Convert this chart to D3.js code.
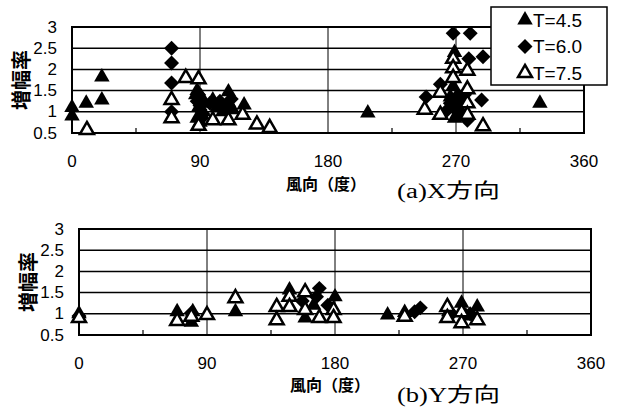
<!DOCTYPE html>
<html>
<head>
<meta charset="utf-8">
<script src="https://cdn.jsdelivr.net/npm/d3@7"></script>
<style>
  body { margin: 0; background: #fff; }
  svg { display: block; }
  text { fill: #000; }
  .tick-label { font-family: 'Liberation Sans', Arial, sans-serif; font-size: 17px; }
  .legend-label { font-family: 'Liberation Sans', Arial, sans-serif; font-size: 19px; }
  .y-title { font-family: 'Noto Sans CJK JP', sans-serif; font-size: 20px; font-weight: bold; }
  .x-title { font-family: 'Noto Sans CJK JP', sans-serif; font-size: 16px; font-weight: bold; }
  .sub-title { font-family: 'Liberation Serif', 'Noto Sans CJK JP', serif; font-size: 20px; }
</style>
</head>
<body>
<svg id="chart" width="619" height="412"></svg>
<script>
const seriesNames = ['T=4.5', 'T=6.0', 'T=7.5'];
const xTicks = [0, 90, 180, 270, 360];
const yTicks = [0.5, 1, 1.5, 2, 2.5, 3];
const minorTicks = [45, 135, 225, 315];

// (a) X direction: [wind direction (deg), amplification]
const xDirT45 = [
  [0, 1.1], [0, 0.9], [10, 1.2], [21, 1.28], [21, 1.82],
  [88, 1.5], [90, 1.3], [89, 1.1], [91, 0.95], [90, 0.75], [93, 1.2],
  [87, 1.4], [92, 1.0], [91, 1.35], [88, 0.85],
  [99, 1.28], [102, 1.1], [106, 1.0], [110, 1.47], [110, 1.22], [113, 1.05], [121, 1.16],
  [208, 0.97],
  [266, 1.35], [269, 2.4], [270, 1.1], [272, 0.9], [268, 1.6], [275, 1.2],
  [268, 1.25], [271, 1.4], [273, 1.05], [269, 0.85],
  [329, 1.2]
];
const xDirT60 = [
  [70, 2.5], [70, 2.15], [70, 1.68], [70, 1.0],
  [89, 1.4], [90, 1.15], [92, 0.95], [88, 1.25], [91, 0.85], [90, 1.05],
  [97, 1.2], [104, 1.25], [108, 1.05], [112, 1.3],
  [249, 1.35], [259, 1.65], [268, 2.85], [280, 2.85], [279, 2.25], [289, 2.3],
  [288, 1.28], [278, 0.8], [266, 1.2], [271, 1.0], [276, 1.4], [264, 1.05],
  [270, 1.3], [273, 1.2]
];
const xDirT75 = [
  [10.5, 0.57], [70, 1.28], [70, 0.85], [80, 1.8], [89, 1.77], [89, 0.67],
  [99, 0.8], [110, 0.8], [120, 0.93], [130, 0.7], [139, 0.62],
  [248, 1.05], [259, 1.45], [259, 0.93], [268, 2.25], [268, 2.03], [268, 1.8],
  [278, 1.97], [278, 1.53], [278, 1.2], [278, 0.93], [289, 0.66]
];

// (b) Y direction
const yDirT45 = [
  [0, 1.0], [69, 1.05], [79, 0.8], [80, 1.05], [110, 1.05],
  [148, 1.56], [159, 0.9], [165, 1.2], [180, 1.4],
  [217, 0.97], [229, 1.03], [269, 1.25], [280, 1.16], [260, 1.05], [272, 0.95]
];
const yDirT60 = [
  [0, 0.95], [79, 1.02], [169, 1.6], [167, 1.4], [175, 1.2], [157, 1.3],
  [240, 1.14], [236, 1.05], [262, 1.0], [275, 1.0]
];
const yDirT75 = [
  [0, 0.9], [69, 0.83], [79, 0.93], [90, 0.97], [110, 1.37],
  [139, 1.16], [139, 0.85], [148, 1.4], [148, 1.16], [159, 1.51], [159, 1.09],
  [169, 0.9], [179, 1.09], [179, 0.9],
  [229, 0.93], [259, 1.16], [259, 0.9], [269, 1.04], [269, 0.78], [280, 0.85]
];

const svg = d3.select('#chart');

const triangle = d3.symbol(d3.symbolTriangle, 104)();
const triangleOpen = d3.symbol(d3.symbolTriangle, 84)();
const diamond = d3.symbol(d3.symbolSquare, 112)();

// draw one marker of a given series at (0,0) inside sel
function marker(sel, i) {
  if (i === 0) {
    sel.append('path').attr('d', triangle).attr('fill', '#000');
  } else if (i === 1) {
    sel.append('path').attr('d', diamond).attr('transform', 'rotate(45)').attr('fill', '#000');
  } else {
    sel.append('path').attr('d', triangleOpen)
      .attr('fill', '#fff').attr('stroke', '#000').attr('stroke-width', 2.5);
  }
}

function drawPanel(opt) {
  const x = d3.scaleLinear().domain([0, 360]).range([opt.left, opt.right]);
  const y = d3.scaleLinear().domain([0.5, 3]).range([opt.bottom, opt.top]);
  const g = svg.append('g');

  // grid
  g.selectAll('.hgrid').data(yTicks).enter().append('line')
    .attr('x1', opt.left).attr('x2', opt.right)
    .attr('y1', d => y(d)).attr('y2', d => y(d))
    .attr('stroke', '#000').attr('stroke-width', 1.5);
  g.selectAll('.vgrid').data(xTicks.slice(1, -1)).enter().append('line')
    .attr('x1', d => x(d)).attr('x2', d => x(d))
    .attr('y1', opt.top).attr('y2', opt.bottom)
    .attr('stroke', '#000').attr('stroke-width', 1);
  g.selectAll('.minor').data(minorTicks).enter().append('line')
    .attr('x1', d => x(d)).attr('x2', d => x(d))
    .attr('y1', opt.bottom).attr('y2', opt.bottom - 5)
    .attr('stroke', '#000').attr('stroke-width', 1.2);
  g.append('rect')
    .attr('x', opt.left).attr('y', opt.top)
    .attr('width', opt.right - opt.left).attr('height', opt.bottom - opt.top)
    .attr('fill', 'none').attr('stroke', '#000').attr('stroke-width', 2);

  // tick labels
  g.selectAll('.xl').data(xTicks).enter().append('text')
    .attr('class', 'tick-label')
    .attr('x', d => x(d)).attr('y', opt.bottom + 28)
    .attr('text-anchor', 'middle').attr('dominant-baseline', 'central')
    .text(d => d);
  g.selectAll('.yl').data(yTicks).enter().append('text')
    .attr('class', 'tick-label')
    .attr('x', opt.left - 15).attr('y', d => y(d))
    .attr('text-anchor', 'end').attr('dominant-baseline', 'central')
    .text(d => d);

  // points, series in order so open triangles sit on top
  opt.series.forEach((data, i) => {
    g.append('g').selectAll('g').data(data).enter().append('g')
      .attr('transform', d => `translate(${x(d[0])},${y(d[1])})`)
      .each(function () { marker(d3.select(this), i); });
  });

  // titles
  g.append('text').attr('class', 'y-title')
    .attr('transform', `translate(${opt.left - 52},${(opt.top + opt.bottom) / 2}) rotate(-90)`)
    .attr('text-anchor', 'middle').attr('dominant-baseline', 'central')
    .text('増幅率');
  g.append('text').attr('class', 'x-title')
    .attr('x', opt.xTitleX).attr('y', opt.xTitleY)
    .attr('text-anchor', 'middle').attr('dominant-baseline', 'central')
    .text('風向（度）');
  g.append('text').attr('class', 'sub-title')
    .attr('x', 397).attr('y', opt.subY)
    .attr('dominant-baseline', 'central')
    .attr('textLength', 103).attr('lengthAdjust', 'spacingAndGlyphs')
    .text(opt.sub);
}

drawPanel({
  left: 72, right: 584, top: 27, bottom: 133,
  series: [xDirT45, xDirT60, xDirT75],
  xTitleX: 326, xTitleY: 183, subY: 191, sub: '(a)X方向'
});
drawPanel({
  left: 79, right: 591, top: 229, bottom: 335,
  series: [yDirT45, yDirT60, yDirT75],
  xTitleX: 330, xTitleY: 384, subY: 395, sub: '(b)Y方向'
});

// legend
const legend = svg.append('g');
legend.append('rect')
  .attr('x', 491).attr('y', 7).attr('width', 116).attr('height', 78)
  .attr('fill', '#fff').attr('stroke', '#000').attr('stroke-width', 1.5);
const item = legend.selectAll('.item').data(seriesNames).enter().append('g')
  .attr('transform', (d, i) => `translate(525,${20 + i * 26.5})`);
item.each(function (d, i) { marker(d3.select(this), i); });
item.append('text').attr('class', 'legend-label')
  .attr('x', 8).attr('dominant-baseline', 'central')
  .text(d => d);
</script>
</body>
</html>
